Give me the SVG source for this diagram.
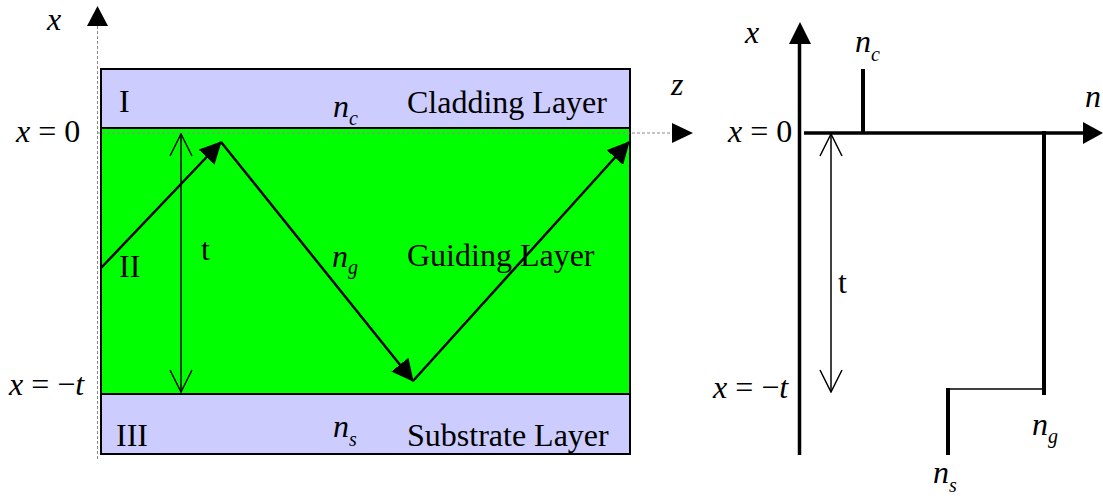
<svg xmlns="http://www.w3.org/2000/svg" width="1103" height="498" viewBox="0 0 1103 498">
<defs>
<style>
.t{font-family:"Liberation Serif","Times New Roman",serif;font-size:32px;fill:#000}
.i{font-style:italic}
.sub{font-size:20px;font-style:italic}
.dash{stroke:#8a8a8a;stroke-width:1;stroke-dasharray:3,2;fill:none}
.ray{stroke:#000;stroke-width:2.5;fill:none}
.thin{stroke:#000;stroke-width:1.5;fill:none}
.ax{stroke:#000;stroke-width:3.5;fill:none}
.stick{stroke:#000;stroke-width:4;fill:none}
</style>
<marker id="fa" viewBox="0 0 22 22" refX="21" refY="11" markerWidth="22" markerHeight="22" markerUnits="userSpaceOnUse" orient="auto">
<path d="M0,0 L22,11 L0,22 Z" fill="#000"/>
</marker>
<marker id="oa" viewBox="-1 -1 24 24" refX="22" refY="11" markerWidth="24" markerHeight="24" markerUnits="userSpaceOnUse" orient="auto-start-reverse">
<path d="M0,0 L22,11 L0,22" fill="none" stroke="#000" stroke-width="1.5"/>
</marker>
</defs>

<g id="layers">
<rect x="101" y="69" width="529" height="59" fill="#ccccff" stroke="#000" stroke-width="2"/>
<rect x="101" y="128" width="529" height="266" fill="#00ff00" stroke="#000" stroke-width="2"/>
<rect x="101" y="394" width="529" height="60" fill="#ccccff" stroke="#000" stroke-width="2"/>
</g>

<g id="axes-left">
<line class="dash" x1="97.5" y1="26" x2="97.5" y2="459"/>
<polygon points="97.5,6 108,26 87,26" fill="#000"/>
<line class="dash" x1="97" y1="133" x2="672" y2="133"/>
<polygon points="672,123 693,133 672,143" fill="#000"/>
</g>

<g id="connectors">
<line class="ray" x1="101" y1="268" x2="221" y2="142" marker-end="url(#fa)"/>
<line class="ray" x1="221" y1="142" x2="413" y2="381" marker-end="url(#fa)"/>
<line class="ray" x1="413" y1="381" x2="629" y2="142" marker-end="url(#fa)"/>
<line class="thin" x1="181" y1="134" x2="181" y2="392" marker-start="url(#oa)" marker-end="url(#oa)"/>
<line class="thin" x1="831" y1="134" x2="831" y2="392" marker-start="url(#oa)" marker-end="url(#oa)"/>
</g>

<g id="labels-left">
<text class="t i" x="47" y="30">x</text>
<text class="t" x="16" y="142"><tspan class="i">x</tspan> = 0</text>
<text class="t" x="9" y="395"><tspan class="i">x</tspan> = −<tspan class="i">t</tspan></text>
<text class="t i" x="671" y="95">z</text>
<text class="t" x="119" y="112">I</text>
<text class="t" x="119" y="277">II</text>
<text class="t" x="116" y="446">III</text>
<text class="t" x="201" y="260">t</text>
<text class="t" x="333" y="117"><tspan class="i">n</tspan><tspan class="sub" dy="8">c</tspan></text>
<text class="t" x="332" y="267"><tspan class="i">n</tspan><tspan class="sub" dy="7">g</tspan></text>
<text class="t" x="333" y="437"><tspan class="i">n</tspan><tspan class="sub" dy="9">s</tspan></text>
<text class="t" x="407" y="113">Cladding Layer</text>
<text class="t" x="407" y="266">Guiding Layer</text>
<text class="t" x="407" y="446">Substrate Layer</text>
</g>

<g id="profile">
<line class="ax" x1="799.5" y1="40" x2="799.5" y2="455"/>
<polygon points="800,22 811,44 789,44" fill="#000"/>
<line class="ax" x1="804" y1="133" x2="1085" y2="133"/>
<polygon points="1083,122 1103,133 1083,144" fill="#000"/>
<line class="stick" x1="863" y1="69" x2="863" y2="133"/>
<line class="stick" x1="1044" y1="131" x2="1044" y2="395"/>
<line class="thin" x1="947" y1="389" x2="1044" y2="389"/>
<line class="stick" x1="948" y1="388" x2="948" y2="455"/>
</g>

<g id="labels-right">
<text class="t i" x="745" y="43">x</text>
<text class="t" x="855" y="52"><tspan class="i">n</tspan><tspan class="sub" dy="9">c</tspan></text>
<text class="t i" x="1085" y="107">n</text>
<text class="t" x="728" y="142"><tspan class="i">x</tspan> = 0</text>
<text class="t" x="713" y="398"><tspan class="i">x</tspan> = −<tspan class="i">t</tspan></text>
<text class="t" x="838" y="293">t</text>
<text class="t" x="1032" y="435"><tspan class="i">n</tspan><tspan class="sub" dy="8">g</tspan></text>
<text class="t" x="933" y="483"><tspan class="i">n</tspan><tspan class="sub" dy="9">s</tspan></text>
</g>
</svg>
